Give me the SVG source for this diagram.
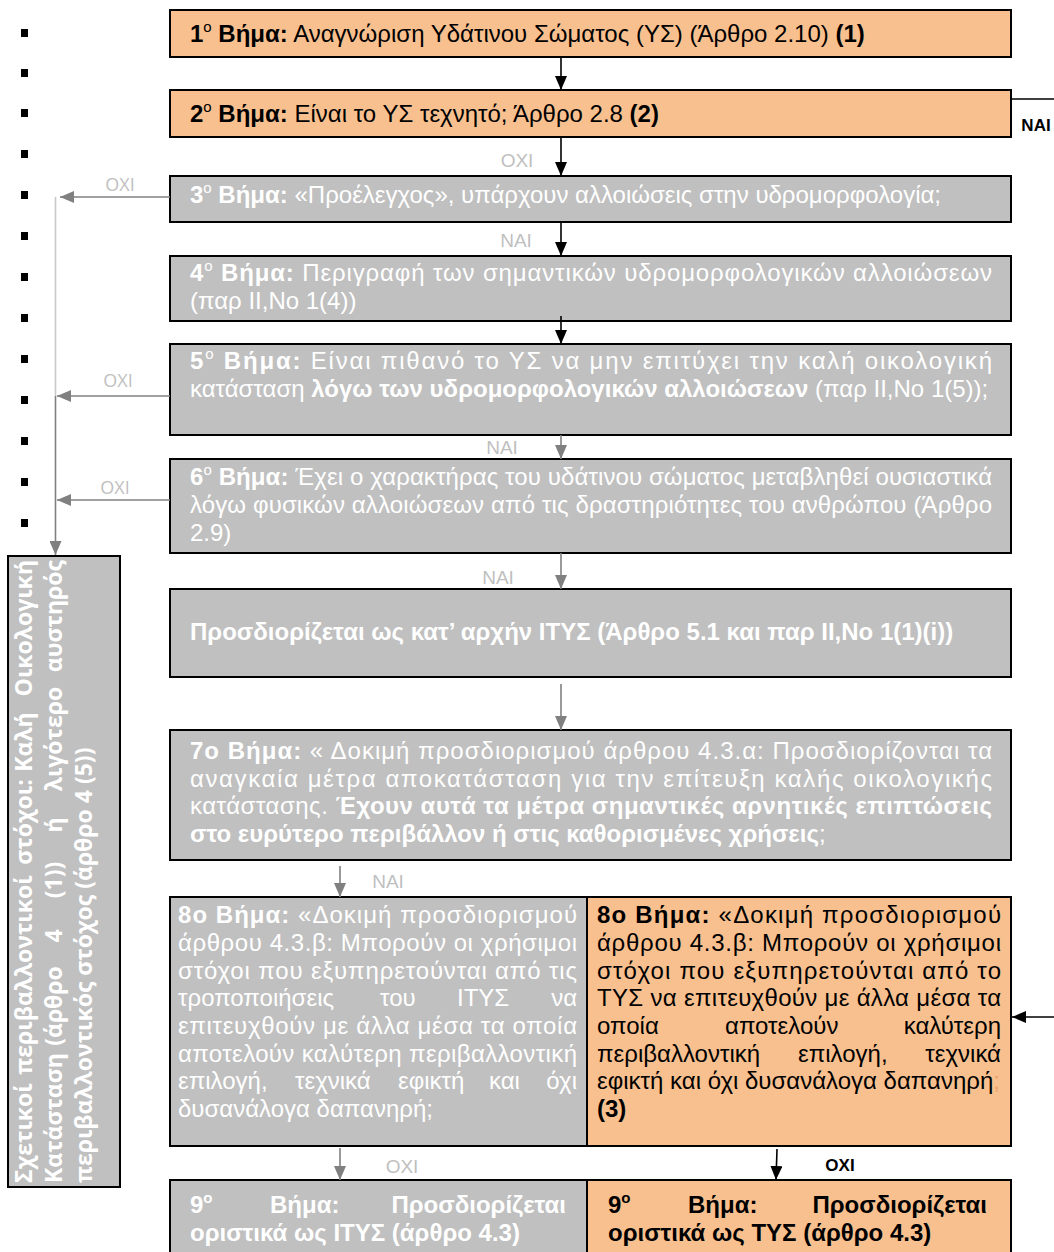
<svg xmlns="http://www.w3.org/2000/svg" width="1054" height="1252" viewBox="0 0 1054 1252">
<style>
.t{font-family:"Liberation Sans",Arial,sans-serif;font-size:24px}
.w{fill:#fff}.k{fill:#000}.b{font-weight:bold}
.bo{fill:#F9C08F;stroke:#000;stroke-width:2}
.bg{fill:#C0C0C0;stroke:#000;stroke-width:2}
.lk{stroke:#000;stroke-width:1.6;fill:none}
.lg{stroke:#808080;stroke-width:1.6;fill:none}
.ll{stroke:#C8C8C8;stroke-width:1.6;fill:none}
.lbl{font-family:"Liberation Sans",Arial,sans-serif;font-size:19px;fill:#BFBFBF;text-anchor:middle}
.lbo{font-family:"Open Sans","Noto Sans",sans-serif;font-size:18px;fill:#BFBFBF;text-anchor:middle}
.lbk{font-family:"Liberation Sans",Arial,sans-serif;font-size:17px;font-weight:bold;fill:#000;text-anchor:middle}
.rot{font-family:"Open Sans","Noto Sans",sans-serif;font-size:23px;font-weight:bold;fill:#fff}
.m{text-anchor:middle}.e{text-anchor:end}
.bul{fill:#000}
</style>
<defs>
<marker id="ak" markerUnits="userSpaceOnUse" markerWidth="14" markerHeight="12" refX="14" refY="6" orient="auto"><path d="M0,0 L14,6 L0,12 z" fill="#000"/></marker>
<marker id="ag" markerUnits="userSpaceOnUse" markerWidth="14" markerHeight="12" refX="14" refY="6" orient="auto"><path d="M0,0 L14,6 L0,12 z" fill="#808080"/></marker>
</defs>

<g id="bullets">
<rect class="bul" x="21" y="29" width="7" height="8"/>
<rect class="bul" x="21" y="69" width="7" height="8"/>
<rect class="bul" x="21" y="109" width="7" height="8"/>
<rect class="bul" x="21" y="150" width="7" height="8"/>
<rect class="bul" x="21" y="191" width="7" height="8"/>
<rect class="bul" x="21" y="232" width="7" height="8"/>
<rect class="bul" x="21" y="273" width="7" height="8"/>
<rect class="bul" x="21" y="314" width="7" height="8"/>
<rect class="bul" x="21" y="355" width="7" height="8"/>
<rect class="bul" x="21" y="396" width="7" height="8"/>
<rect class="bul" x="21" y="437" width="7" height="8"/>
<rect class="bul" x="21" y="478" width="7" height="8"/>
<rect class="bul" x="21" y="519" width="7" height="8"/>
</g>

<g id="n1">
<rect class="bo" x="170" y="10" width="841" height="47"/>
<text class="t k" x="190" y="42"><tspan class="b">1</tspan><tspan font-size="15" dy="-10">o</tspan><tspan class="b" dy="10"> Βήμα:</tspan> Αναγνώριση Υδάτινου Σώματος (ΥΣ) (Άρθρο 2.10) <tspan class="b">(1)</tspan></text>
</g>

<g id="n2">
<rect class="bo" x="170" y="90" width="841" height="47"/>
<text class="t k" x="190" y="122"><tspan class="b">2</tspan><tspan font-size="15" dy="-10">o</tspan><tspan class="b" dy="10"> Βήμα:</tspan> Είναι το ΥΣ τεχνητό; Άρθρο 2.8 <tspan class="b">(2)</tspan></text>
</g>

<g id="n3">
<rect class="bg" x="170" y="176" width="841" height="46"/>
<text class="t w" x="190" y="203"><tspan class="b">3</tspan><tspan font-size="15" dy="-10">o</tspan><tspan class="b" dy="10"> Βήμα:</tspan> «Προέλεγχος», υπάρχουν αλλοιώσεις στην υδρομορφολογία;</text>
</g>

<g id="n4">
<rect class="bg" x="170" y="256" width="841" height="65"/>
<text class="t w" x="190" y="281" textLength="802" lengthAdjust="spacing"><tspan class="b">4</tspan><tspan font-size="15" dy="-10">o</tspan><tspan class="b" dy="10"> Βήμα:</tspan> Περιγραφή των σημαντικών υδρομορφολογικών αλλοιώσεων</text>
<text class="t w" x="190" y="309">(παρ ΙΙ,Νο 1(4))</text>
</g>

<g id="n5">
<rect class="bg" x="170" y="344" width="841" height="91"/>
<text class="t w" x="190" y="369" textLength="802" lengthAdjust="spacing"><tspan class="b">5</tspan><tspan font-size="15" dy="-10">o</tspan><tspan class="b" dy="10"> Βήμα:</tspan> Είναι πιθανό το ΥΣ να μην επιτύχει την καλή οικολογική</text>
<text class="t w" x="190" y="397">κατάσταση <tspan class="b">λόγω των υδρομορφολογικών αλλοιώσεων</tspan> (παρ ΙΙ,Νο 1(5));</text>
</g>

<g id="n6">
<rect class="bg" x="170" y="459" width="841" height="94"/>
<text class="t w" x="190" y="485" textLength="802" lengthAdjust="spacing"><tspan class="b">6</tspan><tspan font-size="15" dy="-10">o</tspan><tspan class="b" dy="10"> Βήμα:</tspan> Έχει ο χαρακτήρας του υδάτινου σώματος μεταβληθεί ουσιαστικά</text>
<text class="t w" x="190" y="513" textLength="802" lengthAdjust="spacing">λόγω φυσικών αλλοιώσεων από τις δραστηριότητες του ανθρώπου (Άρθρο</text>
<text class="t w" x="190" y="541">2.9)</text>
</g>

<g id="n-itys">
<rect class="bg" x="170" y="589" width="841" height="88"/>
<text class="t w b" x="190" y="640">Προσδιορίζεται ως κατ’ αρχήν ΙΤΥΣ (Άρθρο 5.1 και παρ ΙΙ,Νο 1(1)(i))</text>
</g>

<g id="n7">
<rect class="bg" x="170" y="730" width="841" height="130"/>
<text class="t w" x="190" y="759" textLength="802" lengthAdjust="spacing"><tspan class="b">7o Βήμα:</tspan> « Δοκιμή προσδιορισμού άρθρου 4.3.α: Προσδιορίζονται τα</text>
<text class="t w" x="190" y="787" textLength="802" lengthAdjust="spacing">αναγκαία μέτρα αποκατάσταση για την επίτευξη καλής οικολογικής</text>
<text class="t w" x="190" y="814" textLength="802" lengthAdjust="spacing">κατάστασης.  <tspan class="b">Έχουν αυτά τα μέτρα σημαντικές αρνητικές επιπτώσεις</tspan></text>
<text class="t w" x="190" y="842"><tspan class="b">στο ευρύτερο περιβάλλον ή στις καθορισμένες χρήσεις</tspan>;</text>
</g>

<g id="n8a">
<rect class="bg" x="170" y="897" width="417" height="249"/>
<text class="t w" x="178" y="923" textLength="399" lengthAdjust="spacing"><tspan class="b">8o Βήμα:</tspan> «Δοκιμή προσδιορισμού</text>
<text class="t w" x="178" y="951" textLength="399" lengthAdjust="spacing">άρθρου 4.3.β: Μπορούν οι χρήσιμοι</text>
<text class="t w" x="178" y="979" textLength="399" lengthAdjust="spacing">στόχοι που εξυπηρετούνται από τις</text>
<text class="t w" y="1006"><tspan x="178">τροποποιήσεις</tspan><tspan x="380">του</tspan><tspan x="457">ΙΤΥΣ</tspan></text>
<text class="t w e" x="577" y="1006">να</text>
<text class="t w" x="178" y="1034" textLength="399" lengthAdjust="spacing">επιτευχθούν με άλλα μέσα τα οποία</text>
<text class="t w" x="178" y="1062" textLength="399" lengthAdjust="spacing">αποτελούν καλύτερη περιβαλλοντική</text>
<text class="t w" y="1089"><tspan x="178">επιλογή,</tspan><tspan x="295">τεχνικά</tspan><tspan x="398">εφικτή</tspan><tspan x="489">και</tspan></text>
<text class="t w e" x="577" y="1089">όχι</text>
<text class="t w" x="178" y="1117">δυσανάλογα δαπανηρή;</text>
</g>

<g id="n8b">
<rect class="bo" x="587" y="897" width="424" height="249"/>
<text class="t k" x="597" y="923" textLength="404" lengthAdjust="spacing"><tspan class="b">8o Βήμα:</tspan> «Δοκιμή προσδιορισμού</text>
<text class="t k" x="597" y="951" textLength="404" lengthAdjust="spacing">άρθρου 4.3.β: Μπορούν οι χρήσιμοι</text>
<text class="t k" x="597" y="979" textLength="404" lengthAdjust="spacing">στόχοι που εξυπηρετούνται από το</text>
<text class="t k" x="597" y="1006" textLength="404" lengthAdjust="spacing">ΤΥΣ να επιτευχθούν με άλλα μέσα τα</text>
<text class="t k" y="1034"><tspan x="597">οποία</tspan><tspan x="725">αποτελούν</tspan></text>
<text class="t k e" x="1001" y="1034">καλύτερη</text>
<text class="t k" y="1062"><tspan x="597">περιβαλλοντική</tspan><tspan x="798">επιλογή,</tspan></text>
<text class="t k e" x="1001" y="1062">τεχνικά</text>
<text class="t k" x="597" y="1089">εφικτή και όχι δυσανάλογα δαπανηρή<tspan fill="#E9A36B">;</tspan></text>
<text class="t k b" x="597" y="1117">(3)</text>
</g>

<g id="n9a">
<rect class="bg" x="170" y="1180" width="417" height="80"/>
<text class="t w b" y="1213"><tspan x="190">9</tspan><tspan font-size="15" dy="-10">o</tspan><tspan x="270" dy="10">Βήμα:</tspan></text>
<text class="t w b e" x="566" y="1213">Προσδιορίζεται</text>
<text class="t w b" x="190" y="1241">οριστικά ως ΙΤΥΣ (άρθρο 4.3)</text>
</g>

<g id="n9b">
<rect class="bo" x="587" y="1180" width="424" height="80"/>
<text class="t k b" y="1213"><tspan x="608">9</tspan><tspan font-size="15" dy="-10">o</tspan><tspan x="688" dy="10">Βήμα:</tspan></text>
<text class="t k b e" x="987" y="1213">Προσδιορίζεται</text>
<text class="t k b" x="608" y="1241">οριστικά ως ΤΥΣ (άρθρο 4.3)</text>
</g>

<g id="n-goal">
<rect class="bg" x="8" y="556" width="112" height="631"/>
<g transform="translate(32,1183) rotate(-90)">
<text class="rot" x="0" y="0">Σχετικοί</text>
<text class="rot m" x="208" y="0">περιβαλλοντικοί</text>
<text class="rot m" x="361" y="0">στόχοι:</text>
<text class="rot m" x="441" y="0">Καλή</text>
<text class="rot e" x="623" y="0">Οικολογική</text>
<text class="rot" x="0" y="30">Κατάσταση</text>
<text class="rot m" x="177" y="30">(άρθρο</text>
<text class="rot m" x="247" y="30">4</text>
<text class="rot m" x="303" y="30">(1))</text>
<text class="rot m" x="358" y="30">ή</text>
<text class="rot m" x="444" y="30">λιγότερο</text>
<text class="rot e" x="623" y="30">αυστηρός</text>
<text class="rot" x="0" y="60">περιβαλλοντικός στόχος (άρθρο 4 (5))</text>
</g>
</g>

<g id="connectors">
<line class="lk" x1="561" y1="57" x2="561" y2="90" marker-end="url(#ak)"/>
<line class="lk" x1="561" y1="137" x2="561" y2="176" marker-end="url(#ak)"/>
<line class="lk" x1="561" y1="222" x2="561" y2="256" marker-end="url(#ak)"/>
<line class="lk" x1="561" y1="316" x2="561" y2="344" marker-end="url(#ak)"/>
<line class="lg" x1="561" y1="435" x2="561" y2="459" marker-end="url(#ag)"/>
<line class="lg" x1="561" y1="553" x2="561" y2="589" marker-end="url(#ag)"/>
<line class="lg" x1="561" y1="684" x2="561" y2="730" marker-end="url(#ag)"/>
<line class="lg" x1="340" y1="866" x2="340" y2="897" marker-end="url(#ag)"/>
<line class="lg" x1="340" y1="1148" x2="340" y2="1180" marker-end="url(#ag)"/>
<line class="lk" x1="777" y1="1149" x2="776" y2="1180" marker-end="url(#ak)"/>
<line class="lk" x1="1012" y1="99" x2="1054" y2="99"/>
<line class="lk" x1="1054" y1="1017" x2="1012" y2="1017" marker-end="url(#ak)"/>
<line class="lg" x1="170" y1="197" x2="60" y2="197" marker-end="url(#ag)"/>
<line class="lg" x1="170" y1="396" x2="57" y2="396" marker-end="url(#ag)"/>
<line class="lg" x1="170" y1="500" x2="57" y2="500" marker-end="url(#ag)"/>
<line class="ll" x1="55.5" y1="197" x2="55.5" y2="396"/>
<line class="lg" x1="55.5" y1="396" x2="55.5" y2="555" marker-end="url(#ag)"/>
<text class="lbl" x="517" y="167">ΟΧΙ</text>
<text class="lbl" x="516" y="247">ΝΑΙ</text>
<text class="lbl" x="502" y="454">ΝΑΙ</text>
<text class="lbl" x="498" y="584">ΝΑΙ</text>
<text class="lbl" x="388" y="888">ΝΑΙ</text>
<text class="lbl" x="402" y="1173">ΟΧΙ</text>
<text class="lbk" x="840" y="1171">ΟΧΙ</text>
<text class="lbk" x="1036" y="131">ΝΑΙ</text>
<text class="lbo" x="120" y="191">ΟΧΙ</text>
<text class="lbo" x="118" y="387">ΟΧΙ</text>
<text class="lbo" x="115" y="494">ΟΧΙ</text>
</g>
</svg>
